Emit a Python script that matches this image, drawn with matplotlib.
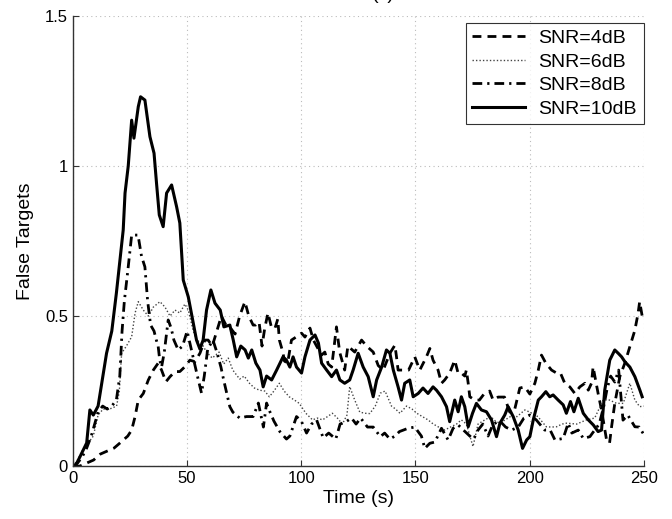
import matplotlib
matplotlib.use('Agg')
import matplotlib.pyplot as plt

plt.rcParams['font.family'] = ['Liberation Sans', 'DejaVu Sans']

# (time, false targets)
snr4 = [(0, 0), (3, 0), (6, 0.01), (9, 0.02), (12, 0.04), (15, 0.05), (18, 0.06), (20.6, 0.077),
        (22.5, 0.09), (24, 0.1), (25.7, 0.12), (27.2, 0.165), (28.6, 0.22), (30.8, 0.242), (33, 0.287),
        (35.2, 0.32), (37.3, 0.343), (38.8, 0.32), (40.7, 0.281), (42.5, 0.298), (44.7, 0.315),
        (46.8, 0.315), (49, 0.331), (51.2, 0.353), (53.4, 0.348), (55.6, 0.376), (57.8, 0.42),
        (59.2, 0.42), (61, 0.4), (63, 0.45), (65, 0.5), (67, 0.47), (69, 0.46), (71, 0.44), (73, 0.5),
        (75.3, 0.548), (77, 0.5), (78.9, 0.47), (80, 0.47), (81.5, 0.48), (82.8, 0.40), (84, 0.46),
        (85.4, 0.51), (87, 0.46), (88.5, 0.46), (89.7, 0.49), (90.4, 0.42), (91.9, 0.38), (92.6, 0.35),
        (94, 0.343), (95.7, 0.42), (97.9, 0.431), (100.1, 0.443), (101.6, 0.43), (103.8, 0.46),
        (105.3, 0.42), (106.7, 0.40), (108.9, 0.37), (110.3, 0.38), (111.8, 0.34), (113.3, 0.33),
        (115.4, 0.464), (116.8, 0.38), (119, 0.32), (120.4, 0.40), (123.4, 0.38), (126.4, 0.42),
        (128.6, 0.4), (131.5, 0.38), (133.7, 0.335), (135.9, 0.32), (138.8, 0.376), (141, 0.403),
        (141.7, 0.364), (142.4, 0.32), (147, 0.32), (149.7, 0.364), (151.9, 0.32), (154.8, 0.364),
        (156.3, 0.392), (157.7, 0.353), (159.9, 0.32), (161.4, 0.276), (162.8, 0.287), (165, 0.31),
        (167.2, 0.353), (168.7, 0.309), (170.1, 0.31), (171.6, 0.30), (172.3, 0.32), (173.1, 0.276),
        (173.8, 0.231), (176, 0.22), (178, 0.22), (180, 0.24), (182.5, 0.25), (184, 0.22), (186.2, 0.23),
        (189, 0.23), (191.3, 0.18), (193.5, 0.19), (195.7, 0.26), (197.9, 0.264), (200.1, 0.24),
        (202.3, 0.276), (203.8, 0.32), (205.2, 0.37), (207.1, 0.343), (209.6, 0.32), (211.8, 0.31),
        (213.5, 0.31), (215.4, 0.276), (217.6, 0.264), (219.8, 0.242), (222, 0.264), (224.2, 0.276),
        (225.7, 0.253), (227.1, 0.276), (227.8, 0.331), (228.8, 0.29), (230, 0.242), (231.5, 0.187),
        (233.7, 0.087), (235, 0.076), (235.9, 0.131), (237.3, 0.209), (239.5, 0.298), (241.7, 0.343),
        (243.9, 0.398), (246.1, 0.453), (247.5, 0.509), (248.2, 0.548), (249.3, 0.5), (250, 0.49)]

snr6 = [(0, 0), (2, 0.02), (4, 0.05), (6, 0.07), (8.9, 0.1), (11, 0.17), (13.2, 0.19), (16, 0.19),
        (19.1, 0.2), (20.3, 0.25), (21.3, 0.376), (23.4, 0.4), (25.7, 0.431), (27.2, 0.51), (28.6, 0.548),
        (30.8, 0.52), (33, 0.5), (35.2, 0.53), (38.1, 0.548), (40.3, 0.53), (42.5, 0.5), (44.7, 0.52),
        (46.8, 0.51), (49, 0.54), (50.5, 0.52), (52.7, 0.45), (54.1, 0.42), (56.3, 0.41), (58.5, 0.38),
        (61, 0.36), (64, 0.38), (66, 0.34), (68, 0.36), (70, 0.32), (73, 0.29), (75, 0.3), (77.3, 0.276),
        (79.5, 0.26), (81.7, 0.253), (84, 0.25), (86, 0.231), (88, 0.25), (90.4, 0.276), (92.5, 0.25),
        (94.7, 0.231), (97, 0.22), (99.1, 0.209), (102, 0.176), (104.9, 0.154), (107, 0.16),
        (109.3, 0.154), (111.5, 0.165), (113.6, 0.176), (115.8, 0.16), (118, 0.14), (120, 0.17),
        (121.2, 0.265), (123.4, 0.22), (125.6, 0.18), (127.8, 0.176), (130, 0.175), (132.4, 0.2),
        (134.6, 0.243), (136.7, 0.25), (139.5, 0.2), (141.3, 0.19), (143.2, 0.176), (146.1, 0.2),
        (148.5, 0.19), (150.6, 0.176), (153, 0.165), (155.5, 0.154), (157.8, 0.14), (159.9, 0.131),
        (162.8, 0.12), (165.6, 0.131), (168, 0.14), (170.1, 0.154), (172.3, 0.14), (175.2, 0.065),
        (177.4, 0.14), (180.4, 0.154), (183, 0.165), (185, 0.15), (187, 0.143), (189.5, 0.155),
        (191.6, 0.165), (194.5, 0.165), (197.9, 0.187), (200, 0.18), (203.6, 0.165), (207.3, 0.131),
        (209.5, 0.13), (211.8, 0.131), (214.2, 0.14), (216.2, 0.143), (220.6, 0.14), (224.9, 0.154),
        (228.5, 0.16), (232.2, 0.22), (235, 0.22), (238.1, 0.209), (241, 0.209), (243.9, 0.276),
        (246.1, 0.22), (248.2, 0.198), (250, 0.2)]

snr8 = [(0, 0), (2, 0.01), (4, 0.03), (6, 0.06), (8, 0.1), (9.5, 0.14), (11, 0.18), (13, 0.2), (15, 0.19),
        (17, 0.2), (19, 0.22), (20.5, 0.3), (21.5, 0.45), (22.5, 0.55), (24, 0.65), (25.7, 0.77),
        (27, 0.77), (28.5, 0.77), (30, 0.7), (31.5, 0.664), (32.7, 0.55), (34, 0.47), (35.5, 0.45),
        (36.5, 0.42), (37.3, 0.40), (38, 0.353), (38.8, 0.33), (40, 0.38), (41.7, 0.487), (43, 0.46),
        (44.2, 0.42), (46.1, 0.387), (48, 0.4), (50, 0.45), (51.5, 0.4), (53, 0.35), (54.5, 0.3),
        (56.3, 0.243), (57.5, 0.3), (59, 0.39), (61.3, 0.42), (63, 0.38), (64.8, 0.33), (66, 0.287),
        (68.7, 0.198), (70, 0.18), (73, 0.16), (76, 0.165), (78.9, 0.165), (81.2, 0.21), (83.4, 0.13),
        (84.8, 0.21), (86.3, 0.18), (88, 0.15), (90.6, 0.115), (93.5, 0.09), (95, 0.1), (97.9, 0.165),
        (100, 0.15), (102.3, 0.11), (104.5, 0.14), (106.7, 0.154), (109.6, 0.094), (112, 0.11),
        (115.1, 0.09), (117, 0.14), (120, 0.15), (122, 0.16), (124, 0.14), (126, 0.16), (129, 0.13),
        (131.5, 0.13), (134.6, 0.098), (136.5, 0.11), (138.8, 0.09), (141, 0.1), (143, 0.115),
        (146.8, 0.126), (149.7, 0.13), (152.6, 0.1), (154.1, 0.059), (156.3, 0.076), (158.5, 0.08),
        (161.4, 0.126), (164.3, 0.087), (166.5, 0.126), (168.7, 0.137), (171, 0.12), (173.8, 0.1),
        (175.5, 0.09), (177.4, 0.12), (179.5, 0.14), (181.8, 0.1), (184, 0.14), (187, 0.15),
        (189.5, 0.13), (192.1, 0.12), (195, 0.13), (197.5, 0.16), (200, 0.17), (202.9, 0.154),
        (206.6, 0.12), (209, 0.12), (211.1, 0.087), (214.7, 0.092), (216.9, 0.143), (218.5, 0.11),
        (221.3, 0.12), (223.5, 0.092), (226.4, 0.098), (228.5, 0.12), (230.5, 0.14), (232.5, 0.2),
        (234, 0.26), (235.5, 0.3), (237.3, 0.28), (239, 0.32), (240.9, 0.153), (243, 0.17),
        (246.1, 0.131), (248, 0.13), (249.7, 0.109)]

snr10 = [(0, 0), (1, 0), (3, 0.03), (6, 0.077), (7.4, 0.187), (8.9, 0.17), (11, 0.2), (13.3, 0.31),
         (14.7, 0.376), (17, 0.45), (19, 0.576), (22, 0.787), (22.8, 0.91), (24.2, 1.0), (25.7, 1.153),
         (26.7, 1.093), (28.6, 1.198), (29.6, 1.231), (31.5, 1.22), (33.7, 1.098), (35.5, 1.043),
         (36.6, 0.942), (37.8, 0.837), (39.5, 0.798), (41, 0.91), (43.2, 0.937), (45.4, 0.864),
         (46.8, 0.81), (48.3, 0.62), (50.5, 0.564), (52.4, 0.487), (54.1, 0.42), (55.6, 0.39),
         (57, 0.42), (58.5, 0.52), (60.4, 0.587), (62.2, 0.543), (64.5, 0.52), (66.1, 0.464),
         (68.7, 0.47), (70.2, 0.42), (71.7, 0.364), (73.5, 0.4), (75.4, 0.387), (76.8, 0.36),
         (78.3, 0.387), (80.1, 0.343), (81.9, 0.32), (83.3, 0.264), (84.8, 0.3), (87, 0.287),
         (89.2, 0.32), (92, 0.364), (93.5, 0.353), (95, 0.33), (96.4, 0.364), (97.9, 0.33),
         (100.1, 0.31), (101.6, 0.364), (103.8, 0.42), (106, 0.437), (107.5, 0.41), (108.9, 0.343),
         (111.1, 0.32), (113.3, 0.298), (115.4, 0.32), (116.9, 0.287), (119, 0.276), (121.2, 0.287),
         (122.7, 0.32), (124.9, 0.376), (127.1, 0.33), (129.3, 0.298), (131.5, 0.231), (133, 0.287),
         (135.2, 0.33), (137.3, 0.387), (138.8, 0.376), (140.3, 0.32), (142.4, 0.264), (143.9, 0.22),
         (145.3, 0.276), (147.5, 0.287), (149, 0.231), (151.2, 0.242), (153.3, 0.26), (155.5, 0.242),
         (157.7, 0.264), (159.2, 0.253), (161.4, 0.231), (163.6, 0.198), (165, 0.148), (167.2, 0.22),
         (168.7, 0.181), (170.1, 0.231), (171.6, 0.198), (173.1, 0.131), (175, 0.176), (176.7, 0.209),
         (178.9, 0.187), (181.1, 0.181), (183.3, 0.154), (185.5, 0.098), (187, 0.143), (189.1, 0.17),
         (190.6, 0.198), (192.8, 0.165), (195, 0.12), (196.9, 0.059), (198.7, 0.087), (200.1, 0.098),
         (201.6, 0.154), (203.8, 0.22), (205.2, 0.231), (207.1, 0.248), (208.8, 0.231), (210.3, 0.237),
         (212.5, 0.22), (214.7, 0.204), (216.1, 0.176), (217.9, 0.215), (219.4, 0.181), (221.3, 0.226),
         (223.5, 0.176), (225.7, 0.154), (227.9, 0.137), (230, 0.115), (231.5, 0.12), (232.9, 0.253),
         (235.1, 0.353), (237.3, 0.387), (238.8, 0.376), (240.3, 0.364), (241.7, 0.348), (243.9, 0.33),
         (246.1, 0.298), (248.3, 0.253), (249.3, 0.231)]

labels = ['SNR=4dB', 'SNR=6dB', 'SNR=8dB', 'SNR=10dB']
x_ticks = [0, 50, 100, 150, 200, 250]
y_ticks = [0, 0.5, 1, 1.5]

fig = plt.figure(figsize=(6.72, 5.19), dpi=100)
ax = fig.add_axes([0.1086, 0.102, 0.8494, 0.867])

styles = [dict(color='black', lw=2.0, ls=(0, (3.2, 2.2))),
          dict(color='#444444', lw=1.0, ls=(0, (1, 1.5))),
          dict(color='black', lw=2.0, ls=(0, (3.5, 1.8, 0.8, 1.8))),
          dict(color='black', lw=2.2, ls='-')]

for series, lab, st in zip([snr4, snr6, snr8, snr10], labels, styles):
    t, v = zip(*series)
    ax.plot(t, v, label=lab, **st)

ax.set_xlim(0, 250)
ax.set_ylim(0, 1.5)
ax.set_xticks(x_ticks)
ax.set_xticklabels([str(x) for x in x_ticks])
ax.set_yticks(y_ticks)
ax.set_yticklabels(['0', '0.5', '1', '1.5'])
ax.tick_params(direction='in', length=4, width=0.8, labelsize=12, color='#333333')
ax.grid(True, color='#bbbbbb', linestyle=(0, (1, 3)), linewidth=0.8)

for s in ['top', 'right']:
    ax.spines[s].set_visible(False)
for s in ['left', 'bottom']:
    ax.spines[s].set_color('#333333')
    ax.spines[s].set_linewidth(1.0)

ax.set_xlabel('Time (s)', fontsize=14, labelpad=3)
ax.set_ylabel('False Targets', fontsize=14, labelpad=8)

leg = ax.legend(loc='upper right', bbox_to_anchor=(1.0, 0.985), fontsize=14,
                frameon=True, fancybox=False, handlelength=2.7, labelspacing=0.3,
                borderpad=0.35, handletextpad=0.7, borderaxespad=0)
leg.get_frame().set_edgecolor('black')
leg.get_frame().set_linewidth(0.8)

fig.text(0.57, 0.995, '(c)', ha='center', va='bottom', fontsize=14)

plt.savefig('out.png', dpi=100)
